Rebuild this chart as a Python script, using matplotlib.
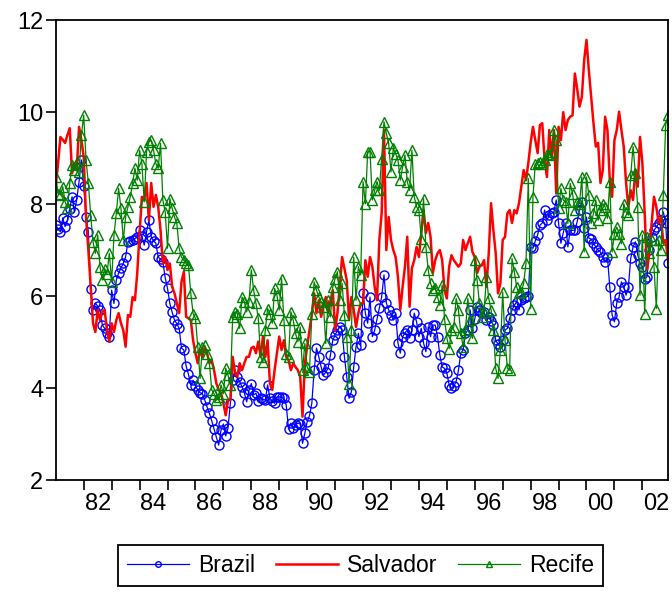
import matplotlib.pyplot as plt
import numpy as np
from matplotlib.lines import Line2D

# monthly data, 1981m1 .. 2002m12
brazil = [
    7.55, 7.45, 7.40, 7.70, 7.51, 7.65, 7.90, 8.16, 7.83, 8.10, 8.49, 8.96,  # 1981
    8.40, 7.72, 7.40, 6.15, 5.70, 5.85, 5.78, 5.70, 5.37, 5.30, 5.20, 5.12,  # 1982
    6.13, 5.84, 6.35, 6.50, 6.61, 6.71, 6.85, 7.18, 7.20, 7.22, 7.25, 7.29,  # 1983
    7.43, 7.30, 7.11, 7.40, 7.65, 7.29, 7.20, 7.15, 6.85, 6.80, 6.75, 6.40,  # 1984
    6.17, 5.84, 5.65, 5.48, 5.40, 5.30, 4.87, 4.83, 4.48, 4.30, 4.07, 4.17,  # 1985
    4.05, 3.96, 3.90, 3.88, 3.74, 3.59, 3.45, 3.29, 3.11, 2.93, 2.76, 3.09,  # 1986
    3.22, 2.96, 3.13, 3.67, 4.17, 4.39, 4.25, 4.14, 4.03, 3.90, 3.70, 3.95,  # 1987
    4.10, 3.85, 3.89, 3.72, 3.78, 3.76, 3.74, 4.07, 3.78, 3.72, 3.67, 3.81,  # 1988
    3.81, 3.80, 3.78, 3.63, 3.11, 3.24, 3.13, 3.20, 3.24, 3.22, 2.80, 3.02,  # 1989
    3.27, 3.40, 3.67, 4.39, 4.87, 4.68, 4.46, 4.28, 4.35, 4.43, 4.72, 5.04,  # 1990
    5.15, 5.26, 5.33, 5.26, 4.68, 4.25, 3.78, 3.92, 4.46, 4.90, 5.19, 4.93,  # 1991
    6.06, 5.63, 5.41, 5.98, 5.12, 5.26, 5.50, 5.74, 5.98, 6.46, 5.85, 5.70,  # 1992
    5.60, 5.48, 5.63, 4.98, 4.76, 5.12, 5.20, 5.26, 5.09, 5.26, 5.63, 5.44,  # 1993
    5.12, 5.30, 4.98, 4.79, 5.33, 5.12, 5.37, 5.37, 5.12, 4.72, 4.46, 4.43,  # 1994
    4.33, 4.07, 4.00, 4.05, 4.14, 4.39, 4.76, 4.83, 5.19, 5.26, 5.70, 5.30,  # 1995
    5.50, 5.77, 5.70, 5.63, 5.66, 5.48, 5.55, 5.45, 5.37, 5.04, 4.95, 4.90,  # 1996
    5.04, 5.26, 5.30, 5.52, 5.70, 5.80, 5.88, 5.70, 5.91, 5.95, 5.98, 6.00,  # 1997
    7.07, 7.04, 7.20, 7.33, 7.54, 7.59, 7.87, 7.65, 7.76, 7.80, 7.83, 8.09,  # 1998
    7.59, 7.15, 7.37, 7.59, 7.07, 7.43, 7.43, 7.43, 7.62, 7.87, 8.05, 7.48,  # 1999
    7.72, 7.26, 7.24, 7.15, 7.07, 7.00, 6.96, 6.85, 6.75, 6.85, 6.20, 5.59,  # 2000
    5.44, 5.85, 5.98, 6.31, 6.20, 6.02, 6.20, 6.82, 7.07, 7.18, 6.90, 6.71,  # 2001
    6.64, 6.38, 6.42, 7.00, 7.29, 7.43, 7.50, 7.58, 7.65, 7.83, 7.60, 6.71,  # 2002
]

salvador = [
    8.40, 8.90, 9.46, 9.40, 9.33, 9.50, 9.65, 8.67, 8.89, 8.74, 9.68, 9.39,  # 1981
    9.03, 7.72, 7.00, 6.20, 5.41, 5.22, 5.70, 5.48, 5.66, 5.70, 5.26, 5.01,  # 1982
    5.41, 5.22, 5.48, 5.63, 5.41, 5.26, 4.90, 5.59, 5.55, 5.98, 5.91, 6.50,  # 1983
    7.37, 8.16, 8.09, 8.46, 7.65, 8.46, 7.94, 8.20, 7.94, 7.43, 6.71, 6.85,  # 1984
    6.57, 6.71, 6.20, 6.06, 5.84, 5.63, 6.31, 6.53, 5.55, 5.52, 5.48, 5.04,  # 1985
    4.76, 4.54, 4.83, 4.68, 4.90, 4.76, 4.54, 4.61, 4.39, 4.10, 3.96, 3.89,  # 1986
    3.67, 3.41, 3.74, 3.74, 4.68, 4.33, 4.25, 4.54, 4.39, 4.54, 4.68, 4.68,  # 1987
    4.87, 4.90, 4.76, 5.01, 4.68, 5.12, 4.68, 5.04, 4.10, 3.96, 4.39, 4.76,  # 1988
    5.12, 4.83, 5.04, 4.68, 4.61, 4.39, 4.54, 4.46, 4.39, 4.25, 3.38, 4.54,  # 1989
    4.90, 5.26, 5.60, 6.06, 5.63, 5.91, 5.55, 5.80, 5.98, 5.63, 5.90, 6.13,  # 1990
    5.26, 5.63, 6.20, 6.85, 6.60, 6.35, 5.48, 5.98, 5.70, 5.33, 5.63, 5.84,  # 1991
    5.84, 6.78, 6.42, 6.85, 6.64, 6.20, 5.91, 7.22, 7.80, 9.61, 7.00, 7.72,  # 1992
    7.22, 7.00, 6.85, 6.42, 5.70, 6.20, 6.64, 7.29, 5.77, 6.61, 6.78, 7.07,  # 1993
    6.85, 7.37, 7.87, 7.37, 7.59, 7.29, 6.50, 6.78, 6.93, 7.00, 6.78, 6.13,  # 1994
    5.95, 6.64, 6.89, 6.78, 6.71, 6.64, 6.71, 7.22, 7.00, 7.15, 7.29, 6.96,  # 1995
    6.85, 6.50, 6.64, 6.67, 6.78, 6.20, 6.93, 8.02, 7.43, 6.93, 6.06, 6.28,  # 1996
    7.22, 7.29, 7.80, 7.87, 7.59, 7.87, 7.80, 8.02, 8.38, 8.74, 8.52, 8.89,  # 1997
    9.33, 9.68, 9.39, 9.11, 9.72, 9.76, 8.96, 8.59, 9.61, 9.03, 9.61, 8.23,  # 1998
    9.68, 9.39, 10.00, 9.61, 9.83, 9.90, 9.93, 10.84, 10.51, 10.12, 10.33, 11.13,  # 1999
    11.57, 10.91, 10.33, 9.76, 9.25, 9.33, 8.46, 8.74, 9.90, 9.61, 8.52, 8.16,  # 2000
    9.39, 9.61, 10.01, 9.61, 9.25, 8.46, 7.94, 8.30, 8.09, 8.74, 8.38, 9.46,  # 2001
    8.89, 7.80, 6.57, 6.93, 7.59, 8.16, 7.94, 7.59, 7.72, 7.15, 7.22, 6.80,  # 2002
]

recife = [
    8.59, 8.23, 8.20, 8.38, 8.05, 7.91, 8.45, 8.85, 8.74, 8.92, 8.70, 9.50,  # 1981
    9.93, 8.96, 8.45, 7.76, 7.18, 6.93, 7.33, 6.64, 6.35, 6.60, 6.49, 6.93,  # 1982
    6.31, 7.33, 7.80, 8.34, 7.91, 7.22, 7.72, 7.94, 8.16, 8.45, 8.78, 8.52,  # 1983
    9.17, 8.88, 8.05, 9.14, 9.35, 9.39, 9.17, 8.88, 8.78, 9.32, 8.09, 7.83,  # 1984
    7.04, 8.12, 7.91, 7.72, 7.58, 7.04, 6.85, 6.78, 6.71, 6.67, 6.06, 5.62,  # 1985
    5.52, 4.90, 4.21, 4.90, 4.93, 4.75, 4.54, 3.96, 3.88, 3.74, 3.81, 4.07,  # 1986
    3.88, 4.43, 4.28, 4.07, 5.55, 5.66, 5.62, 5.30, 5.98, 5.88, 5.66, 5.88,  # 1987
    6.57, 6.13, 5.84, 5.52, 4.68, 4.57, 5.26, 5.73, 5.62, 5.41, 6.17, 6.02,  # 1988
    5.70, 6.38, 5.48, 4.75, 4.68, 5.66, 5.48, 5.19, 5.01, 5.33, 4.39, 4.97,  # 1989
    4.46, 4.36, 5.62, 6.31, 6.13, 5.98, 5.88, 5.77, 4.97, 5.91, 5.55, 6.20,  # 1990
    6.38, 6.53, 5.91, 6.28, 5.59, 5.12, 4.10, 5.26, 6.85, 5.91, 6.64, 6.46,  # 1991
    8.49, 8.01, 9.14, 9.14, 8.09, 8.30, 8.49, 8.30, 8.99, 9.79, 9.54, 9.32,  # 1992
    8.70, 9.21, 9.10, 8.96, 8.52, 8.81, 9.07, 8.49, 8.30, 9.17, 8.16, 7.94,  # 1993
    7.87, 7.25, 8.12, 7.07, 6.57, 6.28, 6.13, 6.17, 5.98, 5.80, 6.24, 5.51,  # 1994
    5.10, 4.86, 5.26, 5.33, 5.95, 5.70, 5.19, 4.90, 5.26, 5.95, 5.48, 5.08,  # 1995
    6.78, 6.35, 5.84, 5.55, 5.66, 6.42, 5.95, 5.70, 5.26, 4.43, 4.21, 4.83,  # 1996
    6.09, 5.04, 4.43, 4.39, 6.82, 6.53, 6.20, 6.06, 6.09, 6.28, 6.71, 8.56,  # 1997
    5.73, 8.16, 8.88, 8.90, 8.92, 8.88, 8.96, 9.10, 9.07, 9.14, 9.61, 9.39,  # 1998
    7.91, 8.34, 8.09, 8.05, 7.58, 8.45, 8.23, 7.87, 8.05, 8.01, 8.59, 6.96,  # 1999
    8.59, 8.20, 7.58, 7.80, 8.09, 7.65, 7.87, 8.01, 7.94, 7.69, 8.49, 6.96,  # 2000
    7.36, 7.50, 7.36, 7.14, 8.01, 7.83, 7.76, 8.63, 9.25, 8.67, 7.94, 6.02,  # 2001
    7.33, 5.62, 7.29, 6.93, 7.22, 6.64, 5.73, 7.22, 7.00, 8.20, 9.72, 9.93,  # 2002
]

year_labels = ['82', '84', '86', '88', '90', '92', '94', '96', '98', '00', '02']

plt.rcParams['font.family'] = ['Liberation Sans', 'DejaVu Sans']

fig = plt.figure(figsize=(6.72, 5.92), dpi=100)
ax = fig.add_axes([0.083, 0.189, 0.911, 0.777])

t = 1981 + np.arange(len(brazil)) / 12.0

blue, red, green = '#0000ff', '#ff0000', '#008000'
ax.plot(t, brazil, color=blue, lw=0.9, marker='o', ms=6.5, mfc='none', mec=blue, mew=1.0)
ax.plot(t, salvador, color=red, lw=1.8)
ax.plot(t, recife, color=green, lw=0.9, marker='^', ms=7, mfc='none', mec=green, mew=1.0)

ax.set_xlim(t[0], t[-1])
ax.set_ylim(2, 12)
ax.set_yticks(range(2, 13, 2))
ax.tick_params(axis='y', direction='out', length=7, width=1.2, labelsize=17, pad=2)

# year ticks at each Jan, labels centred in the even years
ax.set_xticks(np.arange(1982, 2003))
ax.set_xticklabels([])
ax.set_xticks(np.arange(1982, 2003, 2) + 0.5, minor=True)
ax.set_xticklabels(year_labels, minor=True)
ax.tick_params(axis='x', which='major', direction='out', length=7, width=1.2)
ax.tick_params(axis='x', which='minor', length=0, labelsize=17, pad=9)

for s in ax.spines.values():
    s.set_linewidth(1.3)
    s.set_color('black')

handles = [
    Line2D([], [], color=blue, lw=0.9, marker='o', ms=4, mfc='none', mec=blue),
    Line2D([], [], color=red, lw=1.8),
    Line2D([], [], color=green, lw=0.9, marker='^', ms=4, mfc='none', mec=green),
]
leg = fig.legend(handles, ['Brazil', 'Salvador', 'Recife'], loc='center',
                 bbox_to_anchor=(0.537, 0.045), ncol=3, fontsize=16.5,
                 handlelength=2.7, columnspacing=0.9, handletextpad=0.4,
                 borderpad=0.4, fancybox=False, edgecolor='black', framealpha=1)
leg.get_frame().set_linewidth(1.3)

fig.savefig('out.png', dpi=100)
